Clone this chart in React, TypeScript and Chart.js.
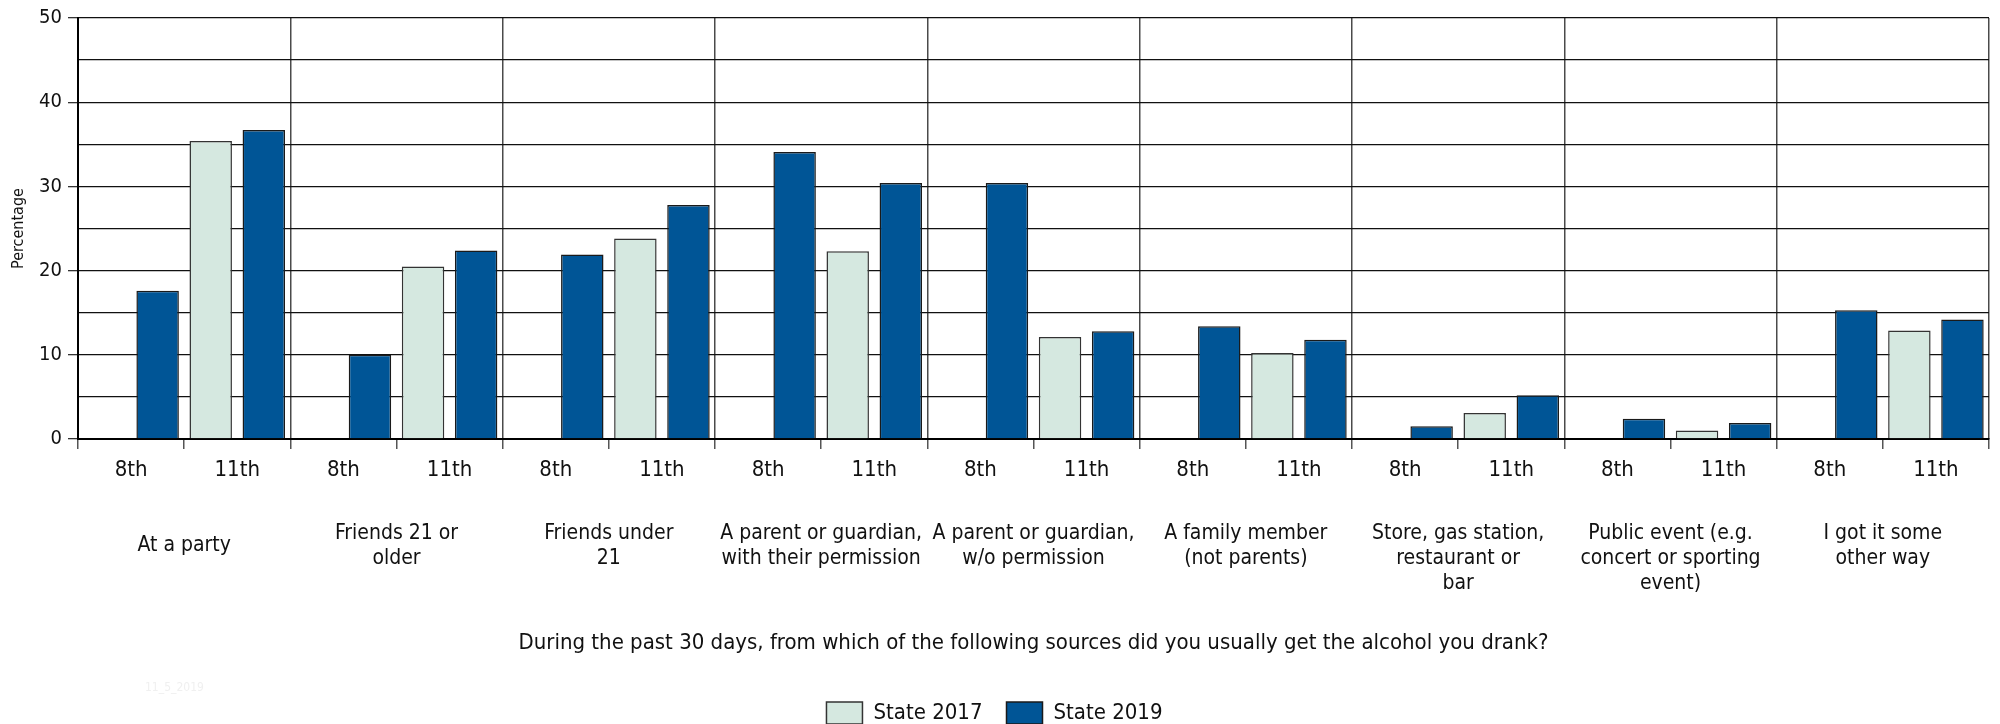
import React, { useEffect, useRef } from "react";
import { Chart, registerables } from "chart.js";

Chart.register(...registerables);

const grades = ["8th", "11th"];
const groupLabels: string[][] = [
  ["At a party"],
  ["Friends 21 or", "older"],
  ["Friends under", "21"],
  ["A parent or guardian,", "with their permission"],
  ["A parent or guardian,", "w/o permission"],
  ["A family member", "(not parents)"],
  ["", "Store, gas station,", "restaurant or", "bar"],
  ["", "Public event (e.g.", "concert or sporting", "event)"],
  ["I got it some", "other way"],
];
const state2017: (number | null)[] = [null, 35.4, null, 20.5, null, 23.8, null, 22.3, null, 12.1, null, 10.2, null, 3.1, null, 1.0, null, 12.9];
const state2019: (number | null)[] = [17.6, 36.7, 10.0, 22.4, 21.9, 27.8, 34.1, 30.4, 30.4, 12.8, 13.4, 11.8, 1.5, 5.2, 2.4, 1.9, 15.3, 14.2];
const yTickValues = [0, 10, 20, 30, 40, 50];
const xTitle = "During the past 30 days, from which of the following sources did you usually get the alcohol you drank?";
const yTitle = "Percentage";
const footnote = "11_5_2019";

const FONT = "'Liberation Sans Narrow', 'Arial Narrow', 'DejaVu Sans Condensed', sans-serif";

export default function App() {
  const ref = useRef<HTMLCanvasElement>(null);
  useEffect(() => {
    document.body.style.margin = "0";
    const categories = groupLabels.flatMap(() => grades);
    const footPlugin = {
      id: "footnote",
      afterDraw(chart: any) {
        const ctx = chart.ctx;
        ctx.save();
        ctx.fillStyle = "#f0f0f0";
        ctx.font = `12px ${FONT}`;
        ctx.textBaseline = "middle";
        ctx.fillText(footnote, 145, 688);
        ctx.restore();
      },
    };
    const chart = new Chart(ref.current!, {
      type: "bar",
      data: {
        labels: categories,
        datasets: [
          {
            label: "State 2017",
            data: state2017,
            backgroundColor: "#d5e8e0",
            borderColor: "#333333",
            borderWidth: 1.5,
            barPercentage: 0.8,
            categoryPercentage: 1,
          },
          {
            label: "State 2019",
            data: state2019,
            backgroundColor: "#005596",
            borderColor: "#1a1a1a",
            borderWidth: 1.5,
            barPercentage: 0.8,
            categoryPercentage: 1,
          },
        ],
      },
      options: {
        responsive: false,
        animation: false,
        layout: { padding: { top: 17, right: 11, left: 0, bottom: -10 } },
        plugins: {
          tooltip: { enabled: false },
          legend: {
            position: "bottom",
            labels: {
              boxWidth: 36,
              boxHeight: 22,
              padding: 24,
              color: "#111",
              font: { family: FONT, size: 22 },
            },
          },
        },
        scales: {
          x: {
            type: "category",
            offset: true,
            afterFit(s: any) { s.height = 50; },
            grid: {
              offset: true,
              drawOnChartArea: false,
              drawTicks: true,
              tickLength: 10,
              color: "#555",
              lineWidth: 1.5,
            },
            border: { display: true, color: "#000", width: 2 },
            ticks: {
              color: "#111",
              padding: 8,
              maxRotation: 0,
              autoSkip: false,
              font: { family: FONT, size: 22 },
            },
          },
          x2: {
            type: "category",
            labels: groupLabels as any,
            position: "bottom",
            offset: true,
            afterFit(s: any) { s.height = 189; },
            grid: {
              offset: true,
              drawOnChartArea: true,
              drawTicks: false,
              color: "#4a4a4a",
              lineWidth: 1.5,
            },
            border: { display: false },
            ticks: {
              color: "#111",
              padding: 19,
              maxRotation: 0,
              autoSkip: false,
              crossAlign: "center",
              font: { family: FONT, size: 21, lineHeight: 1.2 },
            },
            title: {
              display: true,
              text: xTitle,
              color: "#111",
              font: { family: FONT, size: 22 },
              padding: { top: 10, bottom: 22 },
            },
          },
          y: {
            min: 0,
            max: 50,
            afterFit(s: any) { s.width = 78; },
            grid: {
              color: "#111",
              lineWidth: 1.3,
              drawTicks: true,
              tickLength: 10,
              tickColor: (c: any) => (yTickValues.includes(c.tick?.value) ? "#333" : "rgba(0,0,0,0)"),
            },
            border: { display: true, color: "#000", width: 2 },
            ticks: {
              stepSize: 5,
              padding: 6,
              color: "#111",
              font: { family: FONT, size: 20 },
              callback: (v: any) => (yTickValues.includes(Number(v)) ? String(v) : ""),
            },
            title: {
              display: true,
              text: yTitle,
              color: "#111",
              font: { family: FONT, size: 16 },
              padding: { top: 9, bottom: 0 },
            },
          },
        },
      },
      plugins: [footPlugin],
    });
    return () => chart.destroy();
  }, []);
  return <canvas ref={ref} width={2000} height={724} style={{ display: "block" }} />;
}
